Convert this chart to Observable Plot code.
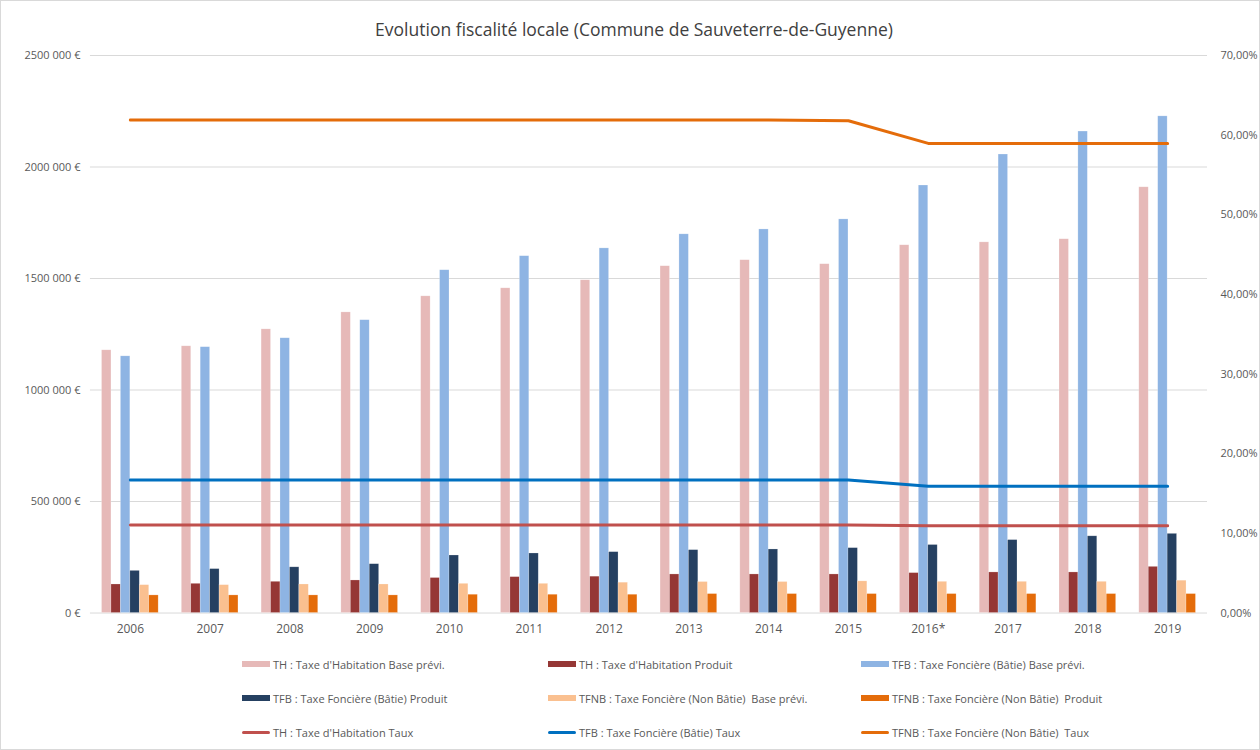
<!DOCTYPE html>
<html>
<head>
<meta charset="utf-8">
<script src="https://cdn.jsdelivr.net/npm/d3@7"></script>
<script src="https://cdn.jsdelivr.net/npm/@observablehq/plot@0.6"></script>
<style>
  html, body { margin: 0; padding: 0; background: #fff; }
  #wrap { position: relative; width: 1258px; height: 748px; border: 1px solid #d9d9d9; overflow: hidden; font-family: "Open Sans", sans-serif; }
  #title { position: absolute; top: 16px; left: 0; width: 1266px; text-align: center; font-size: 17.5px; color: #404040; }
  #chart { position: absolute; top: 39px; left: -1px; }
  .leg { position: absolute; display: flex; align-items: center; font-size: 11px; color: #595959; white-space: pre; }
  .sw { display: inline-block; width: 28px; margin-right: 3px; }
</style>
</head>
<body>
<div id="wrap">
  <div id="title">Evolution fiscalité locale (Commune de Sauveterre-de-Guyenne)</div>
  <div id="chart"></div>
  <div id="legend"></div>
</div>
<script>
// ---- data ----
const years = ["2006","2007","2008","2009","2010","2011","2012","2013","2014","2015","2016*","2017","2018","2019"];

const thBase    = [1178000,1196000,1272000,1348000,1420000,1456000,1492000,1555000,1582000,1564000,1649000,1662000,1676000,1909000];
const thProduit = [128000,131000,140000,146000,157000,161000,163000,173000,173000,173000,179000,182000,182000,207000];
const tfbBase   = [1151000,1192000,1232000,1313000,1537000,1600000,1635000,1698000,1720000,1765000,1917000,2056000,2159000,2227000];
const tfbProduit= [189000,197000,205000,219000,258000,267000,273000,282000,285000,291000,305000,327000,344000,355000];
const tfnbBase  = [125000,125000,128000,128000,131000,131000,136000,139000,139000,142000,140000,140000,140000,145000];
const tfnbProduit=[79000,79000,79000,79000,82000,82000,82000,85000,85000,85000,85000,85000,85000,85000];

const thTaux    = [11.04,11.04,11.04,11.04,11.04,11.04,11.04,11.04,11.04,11.04,10.95,10.95,10.95,10.95];
const tfbTaux   = [16.69,16.69,16.69,16.69,16.69,16.69,16.69,16.69,16.69,16.69,15.93,15.93,15.93,15.93];
const tfnbTaux  = [61.9,61.9,61.9,61.9,61.9,61.9,61.9,61.9,61.9,61.8,58.96,58.96,58.96,58.96];

const leftTicks  = [0,500000,1000000,1500000,2000000,2500000];
const leftLabels = ["0 €","500 000 €","1000 000 €","1500 000 €","2000 000 €","2500 000 €"];
const rightTicks = [0,10,20,30,40,50,60,70];
const rightLabels= ["0,00%","10,00%","20,00%","30,00%","40,00%","50,00%","60,00%","70,00%"];

const barSeries = [
  {name: "TH : Taxe d'Habitation Base prévi.", values: thBase, color: "#e6b9b8"},
  {name: "TH : Taxe d'Habitation Produit", values: thProduit, color: "#953735"},
  {name: "TFB : Taxe Foncière (Bâtie) Base prévi.", values: tfbBase, color: "#8eb4e3"},
  {name: "TFB : Taxe Foncière (Bâtie) Produit", values: tfbProduit, color: "#254061"},
  {name: "TFNB : Taxe Foncière (Non Bâtie)  Base prévi.", values: tfnbBase, color: "#fac090"},
  {name: "TFNB : Taxe Foncière (Non Bâtie)  Produit", values: tfnbProduit, color: "#e46c0a"}
];
const lineSeries = [
  {name: "TH : Taxe d'Habitation Taux", values: thTaux, color: "#c0504d"},
  {name: "TFB : Taxe Foncière (Bâtie) Taux", values: tfbTaux, color: "#0070c0"},
  {name: "TFNB : Taxe Foncière (Non Bâtie)  Taux", values: tfnbTaux, color: "#e46c0a"}
];

// ---- build ----
const yMax = 2500000, rMax = 70;
const toLeft = p => p * yMax / rMax;
const groupW = 0.71, barW = groupW / barSeries.length;

const bars = [];
barSeries.forEach((s, k) => s.values.forEach((v, i) => {
  bars.push({x1: i - groupW/2 + k*barW, x2: i - groupW/2 + (k+1)*barW, y: v, color: s.color});
}));
const lines = [];
lineSeries.forEach(s => s.values.forEach((v, i) => lines.push({x: i, y: toLeft(v), name: s.name, color: s.color})));

const chart = Plot.plot({
  width: 1260,
  height: 612,
  marginLeft: 90,
  marginRight: 52,
  marginTop: 15,
  marginBottom: 39,
  style: {fontFamily: "Open Sans, sans-serif", fontSize: "11px", color: "#595959", background: "transparent"},
  x: {type: "linear", domain: [-0.5, years.length - 0.5], axis: null},
  y: {domain: [0, yMax], axis: null},
  marks: [
    Plot.ruleY(leftTicks, {stroke: "#d9d9d9", strokeWidth: 1}),
    Plot.rectY(bars, {x1: "x1", x2: "x2", y: "y", fill: "color", stroke: "#ffffff", strokeOpacity: 0.35, strokeWidth: 0.6}),
    Plot.line(lines, {x: "x", y: "y", z: "name", stroke: "color", strokeWidth: 3, curve: "linear"}),
    Plot.axisX(d3.range(years.length), {tickSize: 0, tickPadding: 11, tickFormat: i => years[i], fontSize: 12, fill: "#595959", label: null}),
    Plot.axisY(leftTicks, {anchor: "left", tickSize: 0, tickPadding: 10, tickFormat: (d, i) => leftLabels[i], fill: "#595959", label: null}),
    Plot.axisY(rightTicks.map(toLeft), {anchor: "right", tickSize: 0, tickPadding: 13, tickFormat: (d, i) => rightLabels[i], fill: "#595959", textAnchor: "start", label: null})
  ]
});
document.getElementById("chart").appendChild(chart);

// ---- legend ----
const legend = document.getElementById("legend");
const items = barSeries.map(s => ({...s, kind: "bar"})).concat(lineSeries.map(s => ({...s, kind: "line"})));
const colX = [241, 547, 860];
const rowY = [663, 697, 731];
items.forEach((it, idx) => {
  const div = document.createElement("div");
  div.className = "leg";
  div.style.left = colX[idx % 3] + "px";
  div.style.top = (rowY[Math.floor(idx / 3)] - 9) + "px";
  div.style.height = "18px";
  const sw = document.createElement("span");
  sw.className = "sw";
  sw.style.background = it.color;
  sw.style.height = it.kind === "bar" ? "6px" : "3px";
  if (it.kind === "line") sw.style.borderRadius = "2px";
  div.appendChild(sw);
  div.appendChild(document.createTextNode(it.name));
  legend.appendChild(div);
});
</script>
</body>
</html>
